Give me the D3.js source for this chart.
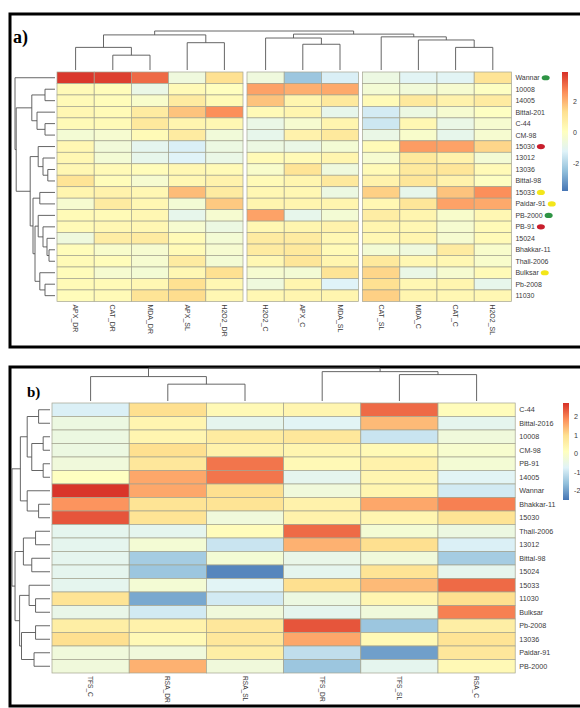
<!DOCTYPE html>
<html>
<head>
<meta charset="utf-8">
<script src="https://cdn.jsdelivr.net/npm/d3@7"></script>
<style>
  body { margin: 0; background: #fff; }
  text { font-family: "Liberation Sans", Arial, sans-serif; }
</style>
</head>
<body>
<div id="chart"></div>
<script>
// panel a
const colsA = ["APX_DR", "CAT_DR", "MDA_DR", "APX_SL", "H2O2_DR", "H2O2_C", "APX_C", "MDA_SL", "CAT_SL", "MDA_C", "CAT_C", "H2O2_SL"];
const rowsA = ["Wannar", "10008", "14005", "Bittal-201", "C-44", "CM-98", "15030", "13012", "13036", "Bittal-98",
  "15033", "Paidar-91", "PB-2000", "PB-91", "15024", "Bhakkar-11", "Thall-2006", "Bulksar", "Pb-2008", "11030"];
const valuesA = [
  [3.8, 3.7, 3.1, -0.6, 1.3, -0.6, -2.3, -1.3, -0.7, -1.1, -1.1, 1.2],
  [0.3, 0.2, -0.8, 0.3, 0.1, 2.3, 2.1, 2.2, -0.4, -0.5, -0.3, 0.0],
  [0.3, 0.2, -0.2, 0.9, 0.3, 1.8, 0.5, 1.0, 0.3, 1.0, 0.6, 0.9],
  [0.4, 0.3, 0.9, 1.8, 2.6, 0.3, 0.5, -0.9, -1.4, -0.7, -0.3, 0.0],
  [0.3, 0.3, 1.0, 0.5, 0.4, -0.8, -0.3, 0.5, -1.5, 0.4, -0.8, -0.3],
  [-0.4, -0.3, 0.3, 0.9, -0.5, -0.9, 0.6, 1.0, -0.8, -0.2, -0.9, -0.3],
  [0.4, -0.5, -1.0, -1.3, -0.7, -0.7, -0.8, -0.4, 0.3, 2.4, 2.3, 1.5],
  [0.4, -0.4, -0.9, -1.2, -0.8, 0.3, 0.3, 0.5, -0.3, 1.0, 0.6, -0.4],
  [0.4, 0.3, 0.2, 0.4, 0.3, -0.2, 1.2, -0.6, 0.3, 1.0, 1.1, 0.3],
  [1.2, 0.2, -0.3, 0.4, 0.6, 0.3, 0.5, 1.0, 0.6, 1.1, 0.6, 0.0],
  [0.5, 0.6, 0.4, 1.9, 0.9, 0.4, 0.4, -0.7, 1.6, -0.9, 1.8, 2.6],
  [-0.3, 0.9, 0.4, -0.4, 1.7, 0.5, 0.5, 0.5, 0.4, 1.1, 2.3, 2.2],
  [0.3, 0.3, 0.4, -0.9, -0.3, 2.3, -0.9, -0.4, 0.8, 0.5, -0.2, 0.4],
  [0.3, 0.4, 0.4, -0.3, -0.7, 0.4, 0.5, 0.6, 0.5, 0.4, -0.3, 0.3],
  [-0.6, 0.8, 0.9, 0.3, -0.4, 0.9, 0.9, 0.4, 0.4, 0.5, -0.3, 0.3],
  [0.2, -0.2, -0.3, 0.3, -0.3, 0.9, 1.0, 0.3, -0.4, -0.6, 0.9, -0.2],
  [0.3, 0.2, -0.3, 0.9, -0.4, 0.4, 1.1, 0.5, 1.0, 0.4, 0.4, -0.2],
  [0.2, -0.3, -0.4, 0.4, 1.3, -0.3, -0.4, 1.2, 1.5, -0.8, -0.3, 0.3],
  [0.3, 0.3, 0.4, 1.3, 0.4, -0.6, 0.5, -1.2, 1.3, 0.4, 0.5, -0.9],
  [0.2, 0.3, 1.2, 1.4, 0.4, 0.4, 0.5, 0.5, 1.6, 0.5, 0.4, 0.4]
];
const gapsA = [5, 8];
// trees: [height, left, right], leaves are indices
const colTreeA = [1.0,
  [0.9, [0.58, 0, [0.38, 1, 2]], [0.7, 3, 4]],
  [0.92, [0.82, 5, [0.66, 6, 7]], [0.85, 8, [0.77, 9, [0.58, 10, 11]]]]];
const rowTreeA = [1.0, 0,
  [0.97,
    [0.58, [0.25, 1, 2], [0.45, 3, [0.25, 4, 5]]],
    [0.62,
      [0.42, 6, [0.3, 7, [0.18, 8, 9]]],
      [0.55, [0.38, 10, 11],
        [0.5, [0.42, 12, [0.3, 13, [0.2, 14, [0.15, 15, 16]]]], [0.38, 17, [0.25, 18, 19]]]]]]];
const markersA = {"Wannar": "#2e9444", "15030": "#c81e2c", "15033": "#f3e61a", "Paidar-91": "#f3e61a",
  "PB-2000": "#2e9444", "PB-91": "#c81e2c", "Bulksar": "#f3e61a"};
const rangeA = [-3.75, 3.9];
const ticksA = [2, 0, -2];

// panel b
const colsB = ["TFS_C", "RSA_DR", "RSA_SL", "TFS_DR", "TFS_SL", "RSA_C"];
const rowsB = ["C-44", "Bittal-2016", "10008", "CM-98", "PB-91", "14005", "Wannar", "Bhakkar-11", "15030", "Thall-2006",
  "13012", "Bittal-98", "15024", "15033", "11030", "Bulksar", "Pb-2008", "13036", "Paidar-91", "PB-2000"];
const valuesB = [
  [-0.8, 1.0, 0.3, 0.4, 2.2, 0.2],
  [-0.4, 0.4, -0.6, -0.7, 1.4, -0.6],
  [-0.4, 0.4, 0.7, 0.8, -1.0, -0.3],
  [-0.4, 1.0, 0.5, 0.4, 0.3, -0.1],
  [-0.3, 0.8, 2.1, 0.3, 0.5, -0.2],
  [0.1, 1.6, 2.1, -0.6, 0.4, -0.7],
  [2.7, 1.6, 1.0, -0.3, 0.4, -0.9],
  [1.8, 0.9, 0.9, 0.5, 1.6, 2.0],
  [2.4, 0.9, -0.3, 0.5, 0.4, 0.9],
  [-0.6, -0.6, 0.2, 2.2, -0.2, -0.4],
  [-0.6, -0.2, -1.0, 1.5, 1.0, -0.8],
  [-0.6, -1.4, -0.2, -0.5, -0.3, -1.4],
  [-0.6, -1.5, -2.3, -0.6, 0.9, -0.6],
  [-0.6, -0.2, -0.7, 1.0, 1.4, 2.2],
  [0.9, -1.9, -0.9, -0.4, 0.4, 1.0],
  [-0.5, -0.9, -0.3, -0.6, -0.3, 2.0],
  [0.6, 0.5, 0.8, 2.4, -1.5, 0.6],
  [1.0, 0.3, 0.8, 1.6, 0.3, 0.9],
  [-0.3, -0.3, 0.6, -1.1, -2.0, 0.8],
  [-0.3, 1.5, -0.3, -1.5, -0.6, 0.3]
];
const colTreeB = [1.0, [0.74, 0, [0.51, 1, 2]], [0.89, 3, [0.8, 4, 5]]];
const rowTreeB = [1.0,
  [0.78, [0.6, [0.3, 0, 1], [0.48, [0.18, 2, 3], [0.18, 4, 5]]], [0.6, 6, [0.3, 7, 8]]],
  [0.92, [0.7, [0.38, 9, 10], [0.48, 11, 12]],
    [0.8, [0.55, 13, [0.38, 14, 15]], [0.75, [0.38, 16, 17], [0.42, 18, 19]]]]];
const rangeB = [-2.5, 2.75];
const ticksB = [2, 1, 0, -1, -2];

const palette = ["#4575b4", "#91bfdb", "#e0f3f8", "#ffffbf", "#fee090", "#fc8d59", "#d73027"];

const svg = d3.select("#chart").append("svg")
  .attr("width", 580)
  .attr("height", 708);

const defs = svg.append("defs");

// walk the tree, collect elbow polylines
const treeLines = (node, leafPos, hs, lines) => {
  if (typeof node === "number") return {p: leafPos(node), h: 0};
  const a = treeLines(node[1], leafPos, hs, lines);
  const b = treeLines(node[2], leafPos, hs, lines);
  lines.push([[a.p, hs(a.h)], [a.p, hs(node[0])], [b.p, hs(node[0])], [b.p, hs(b.h)]]);
  return {p: (a.p + b.p) / 2, h: node[0]};
};

const drawPanel = (p) => {
  const g = svg.append("g");

  // frame
  g.append("rect")
    .attr("x", p.frame[0]).attr("y", p.frame[1])
    .attr("width", p.frame[2]).attr("height", p.frame[3])
    .attr("fill", "none")
    .attr("stroke", "#000")
    .attr("stroke-width", 3);

  g.append("text")
    .attr("x", p.tag[0]).attr("y", p.tag[1])
    .style("font-family", "'Liberation Serif', 'DejaVu Serif', serif")
    .style("font-weight", "bold")
    .style("font-size", p.tagSize + "px")
    .text(p.tagText);

  const nC = p.cols.length, nR = p.rows.length;
  const x = d3.scaleBand().domain(d3.range(nC)).range([p.left, p.left + nC * p.cw]);
  const gap = j => p.gaps.filter(k => j >= k).length * p.gapW;
  const cx = j => x(j) + gap(j);
  const y = d3.scaleBand().domain(d3.range(nR)).range([p.top, p.top + nR * p.rh]);
  const right = cx(nC - 1) + x.bandwidth();
  const bottom = p.top + nR * p.rh;

  const color = d3.scaleLinear()
    .domain(d3.range(7).map(i => p.range[0] + i * (p.range[1] - p.range[0]) / 6))
    .range(palette)
    .clamp(true);

  const cells = p.values.flatMap((row, i) => row.map((v, j) => ({i, j, v})));
  g.append("g").selectAll("rect")
    .data(cells)
    .join("rect")
    .attr("x", d => cx(d.j))
    .attr("y", d => y(d.i))
    .attr("width", x.bandwidth())
    .attr("height", y.bandwidth())
    .attr("fill", d => color(d.v))
    .attr("stroke", "#a3a38f")
    .attr("stroke-width", 0.7);

  // dendrograms
  const line = d3.line();
  const colLines = [];
  const hsCol = d3.scaleLinear().domain([0, 1]).range([p.top - 2, p.colTreeTop]);
  treeLines(p.colTree, j => cx(j) + x.bandwidth() / 2, hsCol, colLines);
  g.append("g").selectAll("path")
    .data(colLines)
    .join("path")
    .attr("d", line)
    .attr("fill", "none")
    .attr("stroke", "#555")
    .attr("stroke-width", 0.9);

  const rowLines = [];
  const hsRow = d3.scaleLinear().domain([0, 1]).range([p.left - 2, p.rowTreeLeft]);
  treeLines(p.rowTree, i => y(i) + y.bandwidth() / 2, hsRow, rowLines);
  g.append("g").selectAll("path")
    .data(rowLines.map(l => l.map(([a, b]) => [b, a])))
    .join("path")
    .attr("d", line)
    .attr("fill", "none")
    .attr("stroke", "#555")
    .attr("stroke-width", 0.9);

  // row labels
  const rowLab = g.append("g").selectAll("text")
    .data(p.rows)
    .join("text")
    .attr("x", right + 4)
    .attr("y", (d, i) => y(i) + y.bandwidth() / 2)
    .attr("dy", "0.35em")
    .style("font-size", p.fontSize + "px")
    .style("fill", "#3a3a3a")
    .text(d => d);

  if (p.markers) {
    rowLab.each(function (d, i) {
      if (!p.markers[d]) return;
      const w = this.getComputedTextLength();
      g.append("ellipse")
        .attr("cx", right + 4 + w + 6)
        .attr("cy", y(i) + y.bandwidth() / 2)
        .attr("rx", 4)
        .attr("ry", 2.6)
        .attr("fill", p.markers[d]);
    });
  }

  // column labels
  g.append("g").selectAll("text")
    .data(p.cols)
    .join("text")
    .attr("transform", (d, j) => `translate(${cx(j) + x.bandwidth() / 2},${bottom + 3}) rotate(90)`)
    .attr("dy", "0.35em")
    .style("font-size", p.colFontSize + "px")
    .style("fill", "#3a3a3a")
    .text(d => d);

  // legend
  const gid = "grad" + p.tagText[0];
  const grad = defs.append("linearGradient")
    .attr("id", gid)
    .attr("x1", 0).attr("y1", 1).attr("x2", 0).attr("y2", 0);
  grad.selectAll("stop")
    .data(palette)
    .join("stop")
    .attr("offset", (d, i) => i / 6)
    .attr("stop-color", d => d);
  g.append("rect")
    .attr("x", p.legend[0]).attr("y", p.legend[1])
    .attr("width", 6).attr("height", p.legend[2])
    .attr("fill", `url(#${gid})`);
  const ly = d3.scaleLinear().domain(p.range).range([p.legend[1] + p.legend[2], p.legend[1]]);
  g.append("g").selectAll("text")
    .data(p.ticks)
    .join("text")
    .attr("x", p.legend[0] + 11)
    .attr("y", d => ly(d))
    .attr("dy", "0.35em")
    .style("font-size", p.fontSize + "px")
    .style("fill", "#3a3a3a")
    .text(d => d);
};

drawPanel({
  frame: [10, 14, 600, 333], tag: [13, 43], tagSize: 18, tagText: "a)",
  cols: colsA, rows: rowsA, values: valuesA, gaps: gapsA, gapW: 4,
  left: 57, cw: 37.2, top: 72, rh: 11.47,
  colTree: colTreeA, rowTree: rowTreeA, colTreeTop: 31, rowTreeLeft: 15,
  markers: markersA, range: rangeA, ticks: ticksA,
  legend: [562, 72, 119], fontSize: 7, colFontSize: 7
});

drawPanel({
  frame: [10, 367, 600, 339], tag: [27, 397], tagSize: 15, tagText: "b)",
  cols: colsB, rows: rowsB, values: valuesB, gaps: [], gapW: 0,
  left: 52, cw: 77.2, top: 403, rh: 13.5,
  colTree: colTreeB, rowTree: rowTreeB, colTreeTop: 368, rowTreeLeft: 12,
  markers: null, range: rangeB, ticks: ticksB,
  legend: [563, 403, 97], fontSize: 7.2, colFontSize: 6.6
});
</script>
</body>
</html>
